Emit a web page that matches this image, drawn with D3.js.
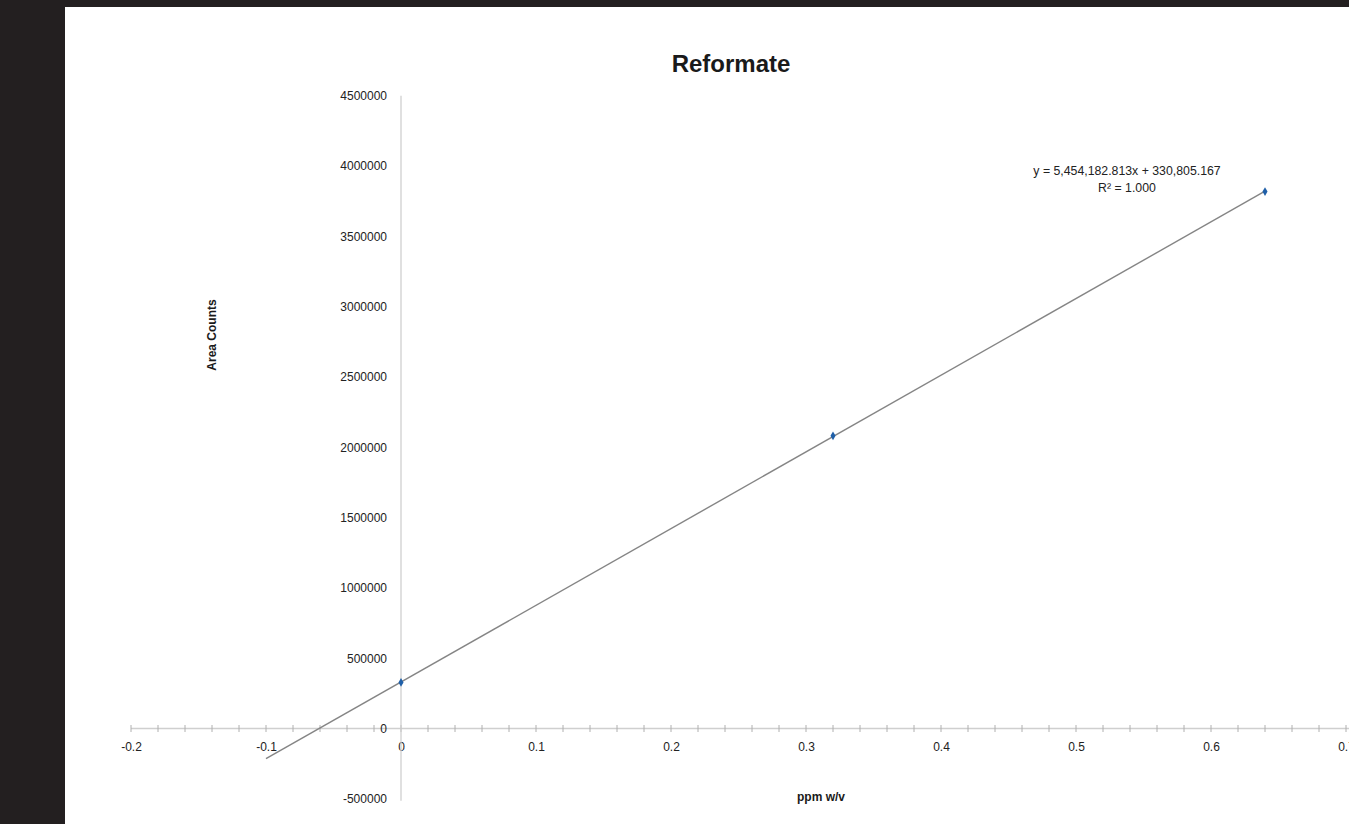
<!DOCTYPE html>
<html>
<head>
<meta charset="utf-8">
<script src="https://cdn.jsdelivr.net/npm/d3@7"></script>
<style>
  html, body { margin: 0; padding: 0; background: #231f20; }
  svg { display: block; }
  text { font-family: "Liberation Sans", Arial, sans-serif; }
</style>
</head>
<body>
<svg id="chart" width="1349" height="824"></svg>
<script>
// Calibration standards: concentration (ppm w/v) vs. integrated peak area
const concentrations = [0, 0.32, 0.64];
const areaCounts = [328000, 2081754, 3818677];

const xTickValues = [-0.2, -0.1, 0, 0.1, 0.2, 0.3, 0.4, 0.5, 0.6, 0.7];
const yTickValues = [-500000, 0, 500000, 1000000, 1500000, 2000000, 2500000, 3000000, 3500000, 4000000, 4500000];

const chartTitle = "Reformate";
const xLabel = "ppm w/v";
const yLabel = "Area Counts";

const svg = d3.select("#chart");

// white sheet
svg.append("rect").attr("x", 65).attr("y", 7).attr("width", 1284).attr("height", 817).attr("fill", "#ffffff");

const x = d3.scaleLinear().domain([-0.2, 0.7]).range([131, 1346]);
const y = d3.scaleLinear().domain([-500000, 4500000]).range([798.8, 95.8]);

// least-squares fit through the standards
const n = concentrations.length;
const mx = d3.mean(concentrations), my = d3.mean(areaCounts);
let sxy = 0, sxx = 0, syy = 0;
for (let i = 0; i < n; i++) {
  sxy += (concentrations[i] - mx) * (areaCounts[i] - my);
  sxx += (concentrations[i] - mx) ** 2;
  syy += (areaCounts[i] - my) ** 2;
}
const slope = sxy / sxx;
const intercept = my - slope * mx;
const r2 = (sxy * sxy) / (sxx * syy);

const axisColor = "#cfcfcf";
const labelColor = "#222222";
const hyphenMinus = s => s.replace("\u2212", "-");

// x axis (through y = 0) with minor ticks every 0.02
const xAxisG = svg.append("g").attr("transform", `translate(0,${y(0)})`);
xAxisG.append("line")
  .attr("x1", x(-0.2)).attr("x2", 1349)
  .attr("stroke", axisColor).attr("stroke-width", 1.3);
const minorTicks = d3.range(0, 46).map(i => -0.2 + i * 0.02);
xAxisG.selectAll("line.minor").data(minorTicks).join("line")
  .attr("class", "minor")
  .attr("x1", d => x(d)).attr("x2", d => x(d))
  .attr("y1", -3.5).attr("y2", 3.5)
  .attr("stroke", "#b0b0b0").attr("stroke-width", 1);
const xAxis = d3.axisBottom(x).tickValues(xTickValues).tickSize(0).tickPadding(14)
  .tickFormat(d => hyphenMinus(d3.format("~g")(+d.toFixed(2))));
const xAxisLabels = svg.append("g").attr("transform", `translate(0,${y(0)})`).call(xAxis);
xAxisLabels.select(".domain").remove();
xAxisLabels.selectAll("text")
  .attr("font-size", 12).attr("fill", labelColor)
  .attr("font-family", "'Liberation Sans', Arial, sans-serif");

// y axis (through x = 0)
const yAxis = d3.axisLeft(y).tickValues(yTickValues).tickSize(0).tickPadding(14)
  .tickFormat(d => hyphenMinus(d3.format("d")(d)));
const yAxisG = svg.append("g").attr("transform", `translate(${x(0)},0)`).call(yAxis);
yAxisG.select(".domain").attr("stroke", axisColor).attr("stroke-width", 1.3)
  .attr("d", `M0,${y(4500000)}V${y(-500000) + 2}`);
yAxisG.selectAll("text")
  .attr("font-size", 12).attr("fill", labelColor)
  .attr("font-family", "'Liberation Sans', Arial, sans-serif");

// trendline
const fitX = [-0.1, 0.64];
svg.append("path")
  .datum(fitX)
  .attr("d", d3.line().x(d => x(d)).y(d => y(slope * d + intercept)))
  .attr("stroke", "#858585").attr("stroke-width", 1.4).attr("fill", "none");

// data points
svg.selectAll("path.pt").data(concentrations).join("path")
  .attr("class", "pt")
  .attr("transform", (d, i) => `translate(${x(d)},${y(areaCounts[i])})`)
  .attr("d", d3.symbol().type(d3.symbolDiamond).size(22))
  .attr("fill", "#1f5fa8");

// title
svg.append("text")
  .attr("x", 731).attr("y", 72)
  .attr("text-anchor", "middle")
  .attr("font-size", 24).attr("font-weight", "bold").attr("fill", "#1a1a1a")
  .text(chartTitle);

// axis titles
svg.append("text")
  .attr("x", 821).attr("y", 801)
  .attr("text-anchor", "middle")
  .attr("font-size", 12).attr("font-weight", "bold").attr("fill", "#1a1a1a")
  .text(xLabel);
svg.append("text")
  .attr("transform", "translate(216,335) rotate(-90)")
  .attr("text-anchor", "middle")
  .attr("font-size", 12).attr("font-weight", "bold").attr("fill", "#1a1a1a")
  .text(yLabel);

// regression annotation
const fmt = d3.format(",.3f");
const eq = svg.append("text")
  .attr("text-anchor", "middle")
  .attr("font-size", 12.3).attr("fill", labelColor);
eq.append("tspan").attr("x", 1127).attr("y", 175)
  .text(`y = ${fmt(slope)}x + ${fmt(intercept)}`);
eq.append("tspan").attr("x", 1127).attr("y", 192)
  .text(`R² = ${r2.toFixed(3)}`);
</script>
</body>
</html>
